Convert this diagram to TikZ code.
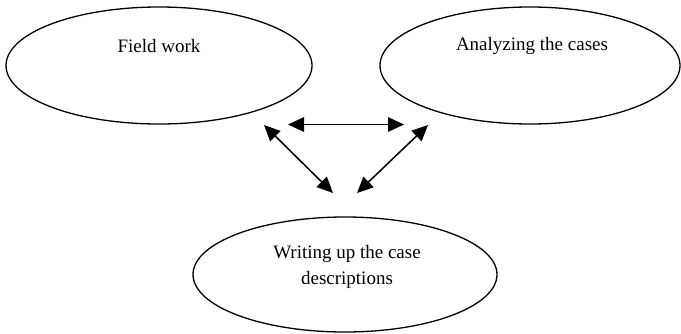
\documentclass[tikz,border=0pt]{standalone}
\usepackage{fontspec}
\setmainfont{Liberation Serif}
\usetikzlibrary{shapes.geometric,arrows.meta}
\begin{document}
\begin{tikzpicture}[x=1pt,y=-1pt,
  oval/.style={draw=black,line width=1.3pt,ellipse,inner sep=0pt},
  lbl/.style={font=\fontsize{19}{26.5}\selectfont,align=center,inner sep=0pt},
  link/.style={line width=1.5pt,{Triangle[length=16pt,width=14.5pt]}-{Triangle[length=16pt,width=14.5pt]}}]
\useasboundingbox (0,0) rectangle (681,333);
% the three stages
\node[oval,minimum width=306pt,minimum height=117pt] (field) at (159,65.5) {};
\node[oval,minimum width=300pt,minimum height=117pt] (analyze) at (530,65.5) {};
\node[oval,minimum width=304pt,minimum height=115pt] (write) at (345,274.5) {};
\node[lbl] (fieldtext) at (159,46) {Field work};
\node[lbl] (analyzetext) at (532,46) {Analyzing the cases};
\node[lbl] (writetext) at (347,267) {Writing up the case\\descriptions};
% arrow end points between the stages
\coordinate (fwR) at (288,124.5);
\coordinate (anL) at (404,124.5);
\coordinate (fwB) at (264,125);
\coordinate (wrL) at (333,193);
\coordinate (anB) at (428,125);
\coordinate (wrR) at (357,193);
\draw[link] (fwR) -- (anL);
\draw[link] (fwB) -- (wrL);
\draw[link] (anB) -- (wrR);
\end{tikzpicture}
\end{document}
